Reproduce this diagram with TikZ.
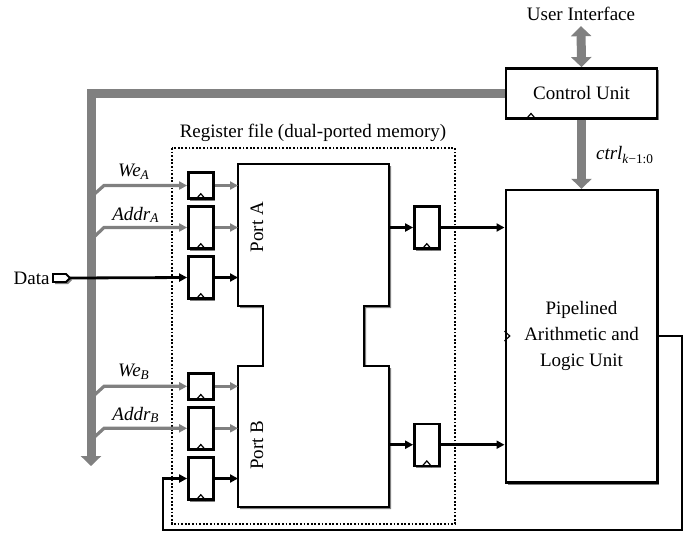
\documentclass[tikz,border=0pt]{standalone}
\usepackage{fontspec}
\setmainfont{Liberation Serif}
\usetikzlibrary{arrows.meta,shadows}
\begin{document}
\begin{tikzpicture}[x=0.5pt,y=-0.5pt, font=\fontsize{9.5}{13}\selectfont,
  shadowed/.style={drop shadow={shadow xshift=1pt,shadow yshift=-1pt,fill=black!50,opacity=1}},
  box/.style={draw,line width=1.2pt,fill=white,shadowed,inner sep=0pt},
  ff/.style={box,minimum width=12.5pt},
  bus/.style={draw=black!50,line width=4.5pt},
  bushead/.style={-{Triangle[width=10pt,length=5pt]}},
  gsig/.style={draw=black!50,line width=1.6pt,-{Triangle[length=4pt,width=4pt]}},
  sig/.style={draw=black,line width=1.4pt,-{Triangle[length=4pt,width=4pt]}},
  clk/.style={draw,line width=0.6pt}
]
\useasboundingbox (0,0) rectangle (700,532);

% blocks
\node[box,minimum width=75.5pt,minimum height=25pt] (cu) at (581.5,93.3) {Control Unit};
\node[inner sep=2.5pt] (ui) at (581,14) {User Interface};
\node[box,minimum width=75.8pt,minimum height=146.3pt,align=center] (alu) at (581.5,336.3)
  {Pipelined\\Arithmetic and\\Logic Unit};

% register file frame
\draw[line width=0.9pt,dash pattern=on 0.9pt off 0.9pt] (172,148) rectangle (455,524);
\node (rflabel) at (313,133) {Register file (dual-ported memory)};

% port shape
\draw[box] (238,164) -- (389,164) -- (389,306) -- (364,306) -- (364,366) -- (389,366)
  -- (389,507) -- (238,507) -- (238,366) -- (263,366) -- (263,306) -- (238,306) -- cycle;
\coordinate (portL) at (238,0);
\coordinate (portR) at (389,0);
\node[rotate=90] (pa) at (257,227) {Port A};
\node[rotate=90] (pb) at (257,445) {Port B};

% flip-flops
\node[ff,minimum height=13pt] (ffwa) at (200.8,185.5) {};
\node[ff,minimum height=21pt] (ffaa) at (200.8,227.5) {};
\node[ff,minimum height=21pt] (ffda) at (200.8,277.5) {};
\node[ff,minimum height=13pt] (ffwb) at (200.8,386.3) {};
\node[ff,minimum height=21pt] (ffab) at (200.8,428.3) {};
\node[ff,minimum height=21pt] (ffdb) at (200.8,478.5) {};
\node[ff,minimum height=21pt] (ffoa) at (426.8,227.5) {};
\node[ff,minimum height=21pt] (ffob) at (426.8,444.7) {};
\foreach \n in {ffwa,ffaa,ffda,ffwb,ffab,ffdb,ffoa,ffob}
  \draw[clk] ([xshift=-2.6pt]\n.south) -- ([yshift=3pt]\n.south) -- ([xshift=2.6pt]\n.south);
\draw[clk] ([xshift=-2.6pt]cu.south west -| 531,0) -- ([yshift=3pt]cu.south west -| 531,0) -- ([xshift=2.6pt]cu.south west -| 531,0);
\draw[clk] (alu.west |- 0,331) -- ([xshift=2.6pt]alu.west |- 0,336) -- (alu.west |- 0,341);

% buses
\coordinate (busc) at (91,93.3);
\coordinate (busend) at (91,466);
\draw[bus,bushead] (cu.west) -- (busc) -- (busend);
\draw[bus,{Triangle[width=10pt,length=5pt]}-{Triangle[width=10pt,length=5pt]}] (ui.south) -- (cu.north);
\draw[bus,bushead] (cu.south) -- (alu.north);
\node[anchor=west] (ctrl) at (589,155) {\textit{ctrl}\textsubscript{\textit{k}−1:0}};

% control branches
\coordinate (bwa) at (95,193.5);
\coordinate (baa) at (95,236);
\coordinate (bwb) at (95,394.5);
\coordinate (bab) at (95,436.5);
\draw[gsig] (bwa) -- (104,185.5) -- (ffwa.west);
\draw[gsig] (baa) -- (104,227.5) -- (ffaa.west);
\draw[gsig] (bwb) -- (104,386.3) -- (ffwb.west);
\draw[gsig] (bab) -- (104,428.3) -- (ffab.west);
\node (lwa) at (134,172) {\textit{We}\textsubscript{\textit{A}}};
\node (laa) at (136,215) {\textit{Addr}\textsubscript{\textit{A}}};
\node (lwb) at (134,372) {\textit{We}\textsubscript{\textit{B}}};
\node (lab) at (136,415) {\textit{Addr}\textsubscript{\textit{B}}};

% FF to port
\draw[gsig] (ffwa.east) -- (ffwa.east -| portL);
\draw[gsig] (ffaa.east) -- (ffaa.east -| portL);
\draw[sig] (ffda.east) -- (ffda.east -| portL);
\draw[gsig] (ffwb.east) -- (ffwb.east -| portL);
\draw[gsig] (ffab.east) -- (ffab.east -| portL);
\draw[sig] (ffdb.east) -- (ffdb.east -| portL);

% port outputs
\draw[sig] (ffoa.west -| portR) -- (ffoa.west);
\draw[sig] (ffob.west -| portR) -- (ffob.west);
\draw[sig] (ffoa.east) -- (ffoa.east -| alu.west);
\draw[sig] (ffob.east) -- (ffob.east -| alu.west);

% data input
\node[anchor=east,inner sep=1pt] (datalbl) at (52,278) {Data};
\draw[box,line width=0.9pt] (53,274) -- (66,274) -- (70,278) -- (66,282) -- (53,282) -- cycle;
\coordinate (dataout) at (70,278);
\draw[sig] (dataout) -- (ffda.west);

% feedback
\coordinate (fb1) at (682,336);
\coordinate (fb2) at (682,530);
\coordinate (fb3) at (163,530);
\draw[sig] (alu.east |- fb1) -- (fb1) -- (fb2) -- (fb3) -- (fb3 |- ffdb.west) -- (ffdb.west);
\end{tikzpicture}
\end{document}
